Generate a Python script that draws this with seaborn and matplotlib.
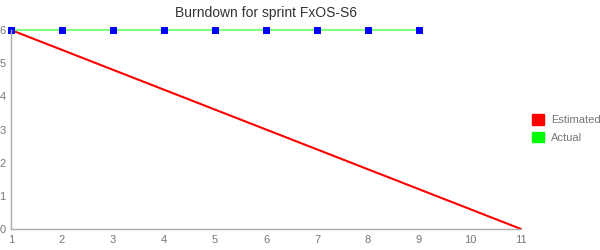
import matplotlib
matplotlib.use("Agg")
import matplotlib.pyplot as plt
from matplotlib.patches import Patch
import seaborn as sns
import pandas as pd

title = "Burndown for sprint FxOS-S6"
est_days = [1, 11]
est_points = [6, 0]
act_days = [1, 2, 3, 4, 5, 6, 7, 8, 9]
act_points = [6, 6, 6, 6, 6, 6, 6, 6, 6]
x_ticks = list(range(1, 12))
y_ticks = list(range(0, 7))

sns.set_style("white")
plt.rcParams['font.family'] = ['Liberation Sans', 'DejaVu Sans']

fig = plt.figure(figsize=(6, 2.5), dpi=100)
ax = fig.add_axes([11/600, 1 - 229/250, 510/600, 199/250])

est = pd.DataFrame({"day": est_days, "points": est_points})
act = pd.DataFrame({"day": act_days, "points": act_points})

sns.lineplot(data=est, x="day", y="points", ax=ax, color="#ff0000", linewidth=1.5, legend=False)
sns.lineplot(data=act, x="day", y="points", ax=ax, color="#80ff80", linewidth=1.5, legend=False,
             marker="s", markersize=4.2, markerfacecolor="#0000ff", markeredgecolor="#0000ff")
for ln in ax.lines:
    ln.set_clip_on(False)

ax.set_xlim(1, 11)
ax.set_ylim(0, 6)
ax.set_xticks(x_ticks)
ax.set_yticks(y_ticks)
ax.set_xlabel("")
ax.set_ylabel("")
for s in ["top", "right"]:
    ax.spines[s].set_visible(False)
for s in ["left", "bottom"]:
    ax.spines[s].set_color("#aaaaaa")
    ax.spines[s].set_linewidth(1)
ax.tick_params(axis="y", length=3, color="#aaaaaa", labelcolor="#777777", labelsize=8, pad=1)
ax.tick_params(axis="x", length=0, labelcolor="#777777", labelsize=8, pad=4)

ax.set_title(title, fontsize=10, color="#333333", pad=9)

handles = [Patch(color="#ff0000", label="Estimated"), Patch(color="#00ff00", label="Actual")]
fig.legend(handles=handles, loc="upper left", bbox_to_anchor=(532/600, 1 - 114/250),
           frameon=False, fontsize=8, labelcolor="#777777", handlelength=1.08, handleheight=1.08,
           handletextpad=0.6, labelspacing=0.6, borderpad=0, borderaxespad=0)

fig.savefig("out.png", dpi=100)
